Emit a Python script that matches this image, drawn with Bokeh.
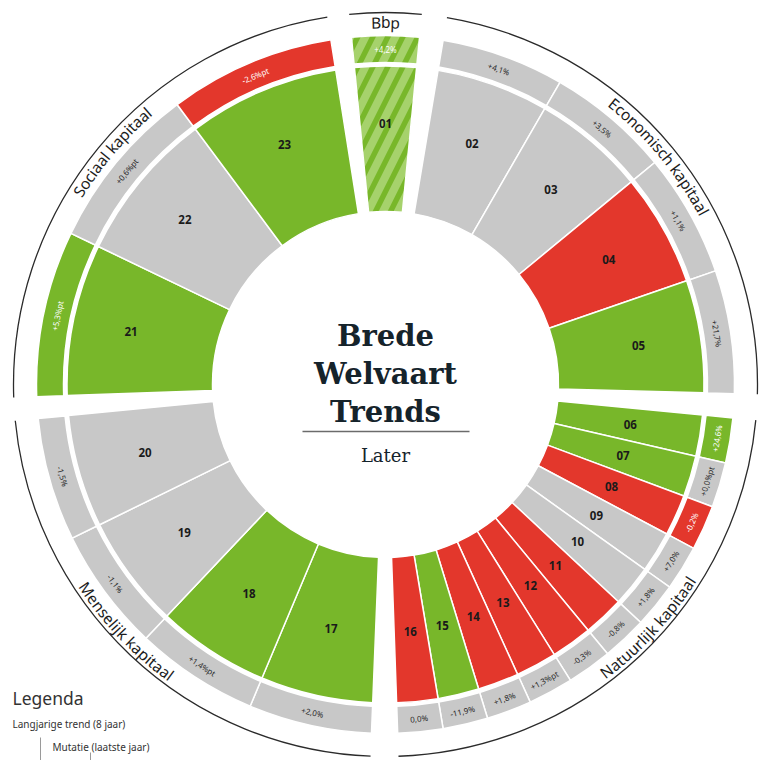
import math
from bokeh.plotting import figure
from bokeh.models import Range1d, ColumnDataSource
from bokeh.embed import file_html
from bokeh.resources import INLINE
from bokeh.core.properties import value

# ---------------- data ----------------
groups = ["Bbp", "Economisch kapitaal", "Natuurlijk kapitaal",
          "Menselijk kapitaal", "Sociaal kapitaal"]
group_sizes = [1, 4, 11, 4, 3]

codes = ["01", "02", "03", "04", "05", "06", "07", "08", "09", "10", "11", "12",
         "13", "14", "15", "16", "17", "18", "19", "20", "21", "22", "23"]

trend_status = ["groen", "grijs", "grijs", "rood", "groen",
                "groen", "groen", "rood", "grijs", "grijs", "rood", "rood",
                "rood", "rood", "groen", "rood",
                "groen", "groen", "grijs", "grijs",
                "groen", "grijs", "groen"]

mutaties = ["+4,2%", "+4,1%", "+3,5%", "+1,1%", "+21,7%",
            "+24,6%", "+0,0%pt", "-0,2%", "+7,0%", "+1,8%", "-0,8%", "-0,3%",
            "+1,3%pt", "+1,8%", "-11,9%", "0,0%",
            "+2,0%", "+1,4%pt", "-1,1%", "-1,5%",
            "+5,3%pt", "+0,6%pt", "-2,6%pt"]

mutatie_status = ["groen", "grijs", "grijs", "grijs", "grijs",
                  "groen", "grijs", "rood", "grijs", "grijs", "grijs", "grijs",
                  "grijs", "grijs", "grijs", "grijs",
                  "grijs", "grijs", "grijs", "grijs",
                  "groen", "grijs", "rood"]

title_lines = ["Brede", "Welvaart", "Trends"]
subtitle = "Later"
legend_title = "Legenda"
legend_items = ["Langjarige trend (8 jaar)", "Mutatie (laatste jaar)"]

# ---------------- layout / style ----------------
COLORS = {"groen": "#78b72a", "rood": "#e3372c", "grijs": "#c8c8c8"}
TXT_ON = {"groen": "white", "rood": "white", "grijs": "#2a2a2a"}
STRIPE = "#a6d26c"
DARK = "#15232b"

# clockwise group spans, degrees (math convention)
group_start_deg = [95.6, 80.5, -5.5, -92.3, -178.0]
group_end_deg = [84.4, -1.5, -88.0, -174.4, -261.0]
label_center_deg = [90.0, 39.8, -42.8, -136.4, 139.6]
code_radius = [261, 256, 248, 250, 260]

R_IN, R_TREND_OUT = 173, 318.5
R_MUT_IN, R_MUT_OUT = 322, 349
R_MUT_TXT = 335.5
R_GROUP_TXT = 362
R_ARC = 372

# ---------------- geometry ----------------
a_lo, a_hi, a_mid, r_code = [], [], [], []
for gs, ge, n, rc in zip(group_start_deg, group_end_deg, group_sizes, code_radius):
    step = (gs - ge) / n
    for j in range(n):
        hi = gs - step * j
        lo = gs - step * (j + 1)
        a_lo.append(math.radians(lo))
        a_hi.append(math.radians(hi))
        a_mid.append(math.radians((lo + hi) / 2))
        r_code.append(rc)


def norm(a):
    while a <= -math.pi:
        a += 2 * math.pi
    while a > math.pi:
        a -= 2 * math.pi
    return a


def tangent_rot(a):
    a = norm(a)
    if a > 0:
        return a - math.pi / 2
    return a + math.pi / 2


p = figure(width=761, height=760, x_range=Range1d(-385, 376), y_range=Range1d(-376, 384),
           output_backend="svg", toolbar_location=None, min_border=0,
           background_fill_color="white", border_fill_color="white")
p.axis.visible = False
p.grid.visible = False
p.outline_line_color = None
p.min_border_left = p.min_border_right = p.min_border_top = p.min_border_bottom = 0

idx_rest = [i for i in range(len(codes)) if i != 0]

trend_src = ColumnDataSource(dict(
    lo=[a_lo[i] for i in idx_rest], hi=[a_hi[i] for i in idx_rest],
    color=[COLORS[trend_status[i]] for i in idx_rest]))
p.annular_wedge(x=0, y=0, inner_radius=R_IN, outer_radius=R_TREND_OUT,
                start_angle="lo", end_angle="hi", fill_color="color",
                line_color="white", line_width=1.5, source=trend_src)

mut_src = ColumnDataSource(dict(
    lo=[a_lo[i] for i in idx_rest], hi=[a_hi[i] for i in idx_rest],
    color=[COLORS[mutatie_status[i]] for i in idx_rest]))
p.annular_wedge(x=0, y=0, inner_radius=R_MUT_IN, outer_radius=R_MUT_OUT,
                start_angle="lo", end_angle="hi", fill_color="color",
                line_color="white", line_width=1.5, source=mut_src)

# Bbp (striped)
for r0, r1, st in [(R_IN, R_TREND_OUT, trend_status[0]), (R_MUT_IN, R_MUT_OUT, mutatie_status[0])]:
    p.annular_wedge(x=0, y=0, inner_radius=r0, outer_radius=r1,
                    start_angle=a_lo[0], end_angle=a_hi[0], fill_color=COLORS[st],
                    hatch_pattern="/", hatch_color=STRIPE, hatch_weight=8, hatch_scale=30,
                    line_color="white", line_width=1.5)

# code labels
p.text(x=[r * math.cos(a) for r, a in zip(r_code, a_mid)],
       y=[r * math.sin(a) for r, a in zip(r_code, a_mid)],
       text=codes, text_align="center", text_baseline="middle",
       text_font=value("Noto Sans"), text_font_style="bold", text_font_size="11.5px",
       text_color="#1a1a1a")

# mutation labels
p.text(x=[R_MUT_TXT * math.cos(a) for a in a_mid], y=[R_MUT_TXT * math.sin(a) for a in a_mid],
       text=mutaties, angle=[tangent_rot(a) for a in a_mid],
       text_align="center", text_baseline="middle",
       text_font=value("Noto Sans"), text_font_size="8px",
       text_color=[TXT_ON[s] for s in mutatie_status])

# outer arcs
p.arc(x=0, y=0, radius=R_ARC,
      start_angle=[math.radians(e) for e in group_end_deg],
      end_angle=[math.radians(s) for s in group_start_deg],
      line_color="#2b2b2b", line_width=1.3)

# curved group labels
W = {'i': .26, 'l': .26, 'j': .26, 't': .35, 'r': .41, 'f': .33, ' ': .26, 'c': .48, 's': .47,
     'a': .56, 'e': .56, 'o': .60, 'n': .61, 'u': .61, 'h': .61, 'p': .61, 'b': .61, 'd': .61,
     'k': .53, 'm': .93, 'E': .56, 'N': .76, 'M': .90, 'S': .54, 'B': .63, 'z': .48, 'w': .80}
GFS = 15.5
cx, cy, ct, ca = [], [], [], []
for name, cdeg in zip(groups, label_center_deg):
    ws = [W.get(c, .56) * GFS for c in name]
    L = sum(ws)
    upper = norm(math.radians(cdeg)) > 0
    cum = 0.0
    for c, w in zip(name, ws):
        s = cum + w / 2
        if upper:
            th = math.radians(cdeg) + (L / 2 - s) / R_GROUP_TXT
            rot = th - math.pi / 2
        else:
            th = math.radians(cdeg) - (L / 2 - s) / R_GROUP_TXT
            rot = th + math.pi / 2
        cx.append(R_GROUP_TXT * math.cos(th))
        cy.append(R_GROUP_TXT * math.sin(th))
        ct.append(c)
        ca.append(rot)
        cum += w
p.text(x=cx, y=cy, text=ct, angle=ca, text_align="center", text_baseline="middle",
       text_font=value("Noto Sans"), text_font_size=f"{GFS}px", text_color="#1c1c1c")

# center title
p.text(x=[0, 0, 0], y=[49, 11, -27], text=title_lines, text_align="center",
       text_baseline="alphabetic", text_font=value("DejaVu Serif"),
       text_font_style="bold", text_font_size="29px", text_color=DARK)
p.segment(x0=[-83], y0=[-47], x1=[84], y1=[-47], line_color="#6b6b6b", line_width=1.5)
p.text(x=[0], y=[-71], text=[subtitle], text_align="center", text_baseline="alphabetic",
       text_font=value("DejaVu Serif"), text_font_size="18px", text_color=DARK)

# legend
p.text(x=[-373], y=[-313], text=[legend_title], text_align="left", text_baseline="middle",
       text_font=value("Noto Sans"), text_font_size="17.5px", text_color="#333333")
p.text(x=[-373, -333], y=[-339, -362], text=legend_items, text_align="left",
       text_baseline="middle", text_font=value("Noto Sans"), text_font_size="10px",
       text_color="#333333")
p.segment(x0=[-345, -295], y0=[-353, -368], x1=[-345, -295], y1=[-376, -376],
          line_color="#9a9a9a", line_width=1)

open("out.html", "w").write(file_html(p, INLINE))
